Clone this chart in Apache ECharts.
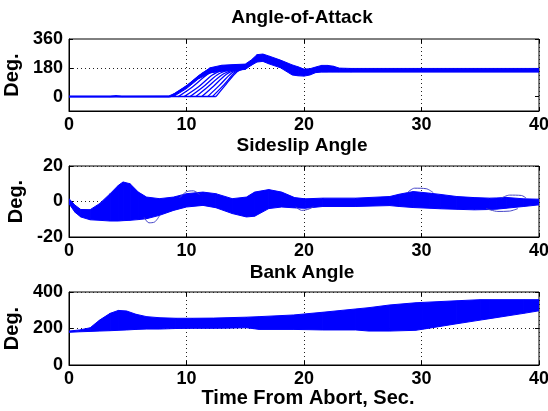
<!DOCTYPE html>
<html><head><meta charset="utf-8">
<script src="https://cdn.jsdelivr.net/npm/echarts@6/dist/echarts.min.js"></script>
<style>html,body{margin:0;padding:0;background:#fff}#c{width:548px;height:411px}</style>
</head><body><div id="c"></div>
<script>
// ---------- data ----------
const xTicks = [0, 10, 20, 30, 40];
const titles = ['Angle-of-Attack', 'Sideslip Angle', 'Bank Angle'];
const yUnit = 'Deg.';
const xName = 'Time From Abort, Sec.';

// Angle-of-attack envelope of all runs (deg)
const aoaTime  = [0, 3.5, 4, 4.5, 8.5, 9, 10, 11, 12, 13, 14, 15, 15.5, 16, 16.5, 17, 18, 19, 19.5, 20, 20.5, 21, 21.5, 22, 22.5, 23, 24, 30, 40];
const aoaUpper = [3, 3, 6, 3, 4, 20, 67, 128, 180, 196, 200, 203, 228, 262, 266, 254, 228, 198, 186, 172, 174, 185, 195, 195, 190, 178, 176, 176, 176];
const aoaLower = [-3, -3, -2, -3, -3, 5, 50, 110, 148, 158, 163, 170, 195, 216, 220, 205, 180, 135, 130, 128, 135, 150, 153, 153, 153, 153, 153, 153, 153];
// individual runs visible in the pitch-up fan
const aoaBase = [[0, 0], [12.5, 0]];
const aoaFan = [
  [[8.6, 0], [10, 67], [11.4, 149], [12.3, 180]],
  [[9.3, 0], [10.5, 60], [11.8, 140], [12.8, 172]],
  [[9.8, 0], [11, 60], [12.2, 135], [13.2, 170]],
  [[10.3, 0], [11.4, 60], [12.6, 135], [13.6, 168]],
  [[10.8, 0], [11.8, 60], [13, 135], [14, 168]],
  [[11.3, 0], [12.3, 65], [13.4, 140], [14.3, 168]],
  [[11.8, 0], [12.8, 70], [13.8, 145], [14.5, 170]],
  [[12.2, 0], [13.2, 75], [14.1, 150], [14.6, 170]],
  [[12.5, 0], [13.4, 80], [14.3, 155], [14.8, 172]]
];

// Sideslip envelope (deg)
const ssTime  = [0, 0.5, 1, 1.8, 2.6, 3.5, 4.2, 4.6, 5.2, 5.9, 6.6, 7.7, 8.9, 10, 11.4, 12.5, 13.9, 15.1, 15.8, 17, 18.1, 19.2, 20.1, 21.6, 24.4, 27.3, 28.1, 29.3, 30.7, 31.6, 33, 34.5, 35.8, 36.4, 37.2, 38.7, 40];
const ssUpper = [1.6, -2, -4.5, -4.6, -1.2, 4.4, 9.1, 11, 10, 5.3, 2.5, 1.6, 2.5, 4.4, 5.3, 4.4, 1.6, 2.5, 5.3, 6.7, 5.3, 2.2, 1.5, 1.9, 1.9, 2.8, 4.1, 5.6, 4.7, 4, 2.8, 2.2, 1.9, 2, 2.3, 1.5, 1.3];
const ssLower = [-1.2, -6, -8.7, -10.3, -10.6, -11, -11, -10.8, -10.6, -10.2, -9.7, -7.8, -5, -3.1, -2.2, -3.5, -6.8, -8.7, -8.3, -4, -3.1, -3.6, -3.8, -2.8, -2.8, -2.3, -2.8, -3.4, -3.8, -4.1, -4.4, -4.7, -4.5, -4.3, -3.8, -2.8, -1.9];
// a few outlying runs drawn as thin loops
const ssLoops = [
  [[9.4, 2], [10, 5.5], [10.6, 6], [11.1, 4]],
  [[6.4, -9], [6.8, -12], [7.3, -11.5], [7.7, -8]],
  [[19.3, -3], [19.8, -5], [20.3, -4.5], [20.8, -3]],
  [[28.8, 5], [29.4, 7.5], [30.4, 7.2], [31, 5]],
  [[36.8, 2], [37.5, 3.6], [38.5, 3.4], [38.9, 2]],
  [[35.5, -4], [36.5, -5.6], [37.5, -5.4], [38.2, -4]]
];

// Bank angle envelope (deg)
const bkTime  = [0, 0.9, 1.8, 2.6, 3.5, 4.2, 4.9, 5.7, 6.6, 7.7, 9.1, 10.5, 12.3, 13.4, 15.1, 16.2, 19.1, 21.6, 24.4, 25.5, 27.3, 29.5, 30.1, 33, 35, 35.8, 38.7, 40];
const bkUpper = [186, 192, 204, 246, 283, 299, 296, 278, 265, 259, 256, 256, 257, 259, 262, 265, 274, 289, 307, 314, 329, 341, 343, 352, 358, 358, 358, 358];
const bkLower = [179, 182, 184, 186, 188, 190, 192, 195, 197, 197, 200, 201, 201, 202, 204, 195, 195, 192, 192, 186, 186, 190, 196, 226, 246, 254, 283, 297];

// ---------- chart ----------
const BLUE = '#0000ff';
const FONT = 'Liberation Sans, Arial, sans-serif';
const gridBoxes = [
  { top: 39, height: 72 },
  { top: 166, height: 71 },
  { top: 292, height: 73 }
];
const yAxes = [
  { min: -90, max: 360, interval: 90, shown: [0, 180, 360] },
  { min: -20, max: 20, interval: 20, shown: [-20, 0, 20] },
  { min: 0, max: 400, interval: 200, shown: [0, 200, 400] }
];
const dottedColor = '#222';
const dotted = { color: dottedColor, type: [1, 3], width: 1 };

// filled band between the lowest and highest run, one quad per time step
function bandRender(params, api) {
  const i = params.dataIndexInside;
  if (i >= params.dataInsideLength - 1) return null;
  const pts = [
    api.coord([api.value(0, i), api.value(2, i)]),
    api.coord([api.value(0, i + 1), api.value(2, i + 1)]),
    api.coord([api.value(0, i + 1), api.value(1, i + 1)]),
    api.coord([api.value(0, i), api.value(1, i)])
  ];
  return { type: 'polygon', shape: { points: pts }, style: { fill: BLUE, stroke: BLUE, lineWidth: 1 } };
}
function bandSeries(time, lower, upper, gi, key) {
  return {
    type: 'custom', name: key, xAxisIndex: gi, yAxisIndex: gi, z: 10, silent: true, clip: true,
    renderItem: bandRender, encode: { x: 0, y: [1, 2] },
    data: time.map((t, i) => [t, lower[i], upper[i]])
  };
}
function runSeries(points, gi, color, width) {
  return {
    type: 'line', xAxisIndex: gi, yAxisIndex: gi, data: points, showSymbol: false,
    symbol: 'none', smooth: 0.3, z: 11, silent: true, lineStyle: { color: color, width: width }
  };
}

const series = [];
series.push(bandSeries(aoaTime, aoaLower, aoaUpper, 0, 'aoa'));
series.push(runSeries(aoaBase, 0, BLUE, 1.5));
aoaFan.forEach(r => series.push(runSeries(r, 0, BLUE, 1.3)));
series.push(bandSeries(ssTime, ssLower, ssUpper, 1, 'ss'));
ssLoops.forEach(r => series.push(runSeries(r, 1, '#4545c8', 1)));
series.push(bandSeries(bkTime, bkLower, bkUpper, 2, 'bk'));

const labelFont = { color: '#000', fontSize: 18, fontWeight: 'bold', fontFamily: FONT };
const xAxis = [], yAxis = [];
gridBoxes.forEach((g, i) => {
  xAxis.push({
    type: 'value', gridIndex: i, min: xTicks[0], max: xTicks[xTicks.length - 1], interval: 10,
    axisLine: { show: true, onZero: false, lineStyle: { color: '#000', width: 1 } },
    axisTick: { show: true, inside: true, length: 4, lineStyle: { color: '#000' } },
    axisLabel: Object.assign({ margin: 5 }, labelFont),
    splitLine: { show: true, lineStyle: dotted },
    name: i === 2 ? xName : '', nameLocation: 'middle', nameGap: 21,
    nameTextStyle: { color: '#000', fontSize: 20, fontWeight: 'bold', fontFamily: FONT, padding: [0, 0, 0, 8] }
  });
  xAxis.push({
    type: 'value', gridIndex: i, position: 'top', min: xTicks[0], max: xTicks[xTicks.length - 1], interval: 10,
    axisLine: { show: false, onZero: false }, axisLabel: { show: false }, splitLine: { show: false },
    axisTick: { show: true, inside: true, length: 4, lineStyle: { color: '#000' } }
  });
});
yAxes.forEach((a, i) => {
  // first axis: only every other split line (0 and 180) is drawn dotted
  const splitColor = i === 0 ? ['rgba(0,0,0,0)', dottedColor] : dottedColor;
  yAxis.push({
    type: 'value', gridIndex: i, min: a.min, max: a.max, interval: a.interval,
    axisLine: { show: true, onZero: false, lineStyle: { color: '#000', width: 1 } },
    axisTick: { show: true, inside: true, length: 4, lineStyle: { color: '#000' }, customValues: a.shown },
    axisLabel: Object.assign({ margin: 6, formatter: v => (a.shown.indexOf(v) >= 0 ? String(v) : '') }, labelFont),
    splitLine: { show: true, lineStyle: { color: splitColor, type: [1, 3], width: 1 } },
    name: yUnit, nameLocation: 'middle', nameRotate: 90, nameGap: 37,
    nameTextStyle: { color: '#000', fontSize: 20, fontWeight: 'bold', fontFamily: FONT }
  });
  yAxis.push({
    type: 'value', gridIndex: i, position: 'right', min: a.min, max: a.max, interval: a.interval,
    axisLine: { show: false, onZero: false }, axisLabel: { show: false }, splitLine: { show: false },
    axisTick: { show: true, inside: true, length: 4, lineStyle: { color: '#000' }, customValues: a.shown }
  });
});
// series use the first (bottom / left) axis of each grid
series.forEach(s => { s.xAxisIndex = s.xAxisIndex * 2; s.yAxisIndex = s.yAxisIndex * 2; });

const titleY = [18, 146, 273];
const option = {
  animation: false,
  backgroundColor: '#fff',
  grid: gridBoxes.map(g => ({
    left: 69, width: 470, top: g.top, height: g.height, show: true,
    borderColor: '#000', borderWidth: 1, containLabel: false, outerBoundsMode: 'none'
  })),
  xAxis: xAxis,
  yAxis: yAxis,
  graphic: titles.map((t, i) => ({
    type: 'text', x: 302, y: titleY[i],
    style: { text: t, align: 'center', verticalAlign: 'middle', font: 'bold 19px ' + FONT, fill: '#000' }
  })),
  series: series
};
const chart = echarts.init(document.getElementById('c'), null, { renderer: 'canvas' });
chart.setOption(option);
</script>
</body></html>
